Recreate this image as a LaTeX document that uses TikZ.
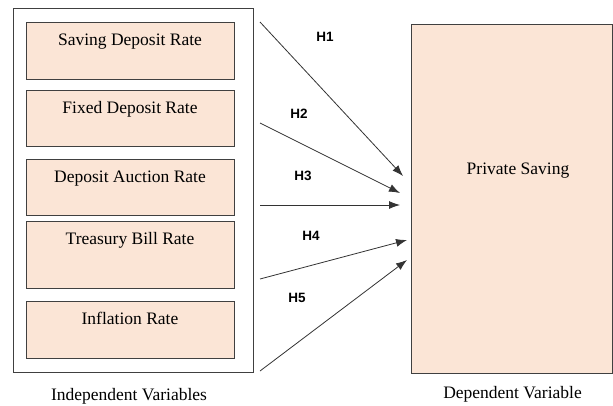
\documentclass[tikz,border=0pt]{standalone}
\usepackage{fontspec}
\setmainfont{Liberation Serif}
\newfontfamily\hypfont{Liberation Sans}
\usetikzlibrary{arrows.meta}
\definecolor{peach}{HTML}{FBE5D6}

\begin{document}
\begin{tikzpicture}[x=1pt,y=-1pt,
			varbox/.style={rectangle, draw=black!75, fill=peach, line width=0.9pt, inner sep=0pt},
			groupbox/.style={rectangle, draw=black!75, line width=0.9pt, inner sep=0pt},
			vartext/.style={anchor=base, inner sep=0pt, font=\fontsize{17.5}{20}\selectfont},
			hyplabel/.style={inner sep=0pt, font=\hypfont\bfseries\fontsize{13.5}{16}\selectfont},
			hyparrow/.style={draw=black!80, line width=0.8pt, -{Latex[length=11pt,width=8pt]}},
			]
\useasboundingbox (0,0) rectangle (613,405);

% independent variables
\node[groupbox, minimum width=240pt, minimum height=364pt] (indep) at (133,190) {};
\node[varbox, minimum width=208pt, minimum height=57pt] (sdr) at (130,50.5) {};
\node[vartext] (sdrtext) at ([yshift=-24pt]sdr.north) {Saving Deposit Rate};
\node[varbox, minimum width=208pt, minimum height=56pt] (fdr) at (130,118) {};
\node[vartext] (fdrtext) at ([yshift=-23.5pt]fdr.north) {Fixed Deposit Rate};
\node[varbox, minimum width=208pt, minimum height=56pt] (dar) at (130,187) {};
\node[vartext] (dartext) at ([yshift=-23.5pt]dar.north) {Deposit Auction Rate};
\node[varbox, minimum width=208pt, minimum height=67pt] (tbr) at (130,254.5) {};
\node[vartext] (tbrtext) at ([yshift=-24pt]tbr.north) {Treasury Bill Rate};
\node[varbox, minimum width=208pt, minimum height=57pt] (infl) at (130,329.5) {};
\node[vartext] (infltext) at ([yshift=-23.5pt]infl.north) {Inflation Rate};
\node[vartext] (indeptext) at (129,400.5) {Independent Variables};

% dependent variable
\node[varbox, minimum width=201pt, minimum height=349pt] (saving) at (511.5,198.5) {};
\node[vartext] (savingtext) at (518,174) {Private Saving};
\node[vartext] (deptext) at (512.5,398) {Dependent Variable};

% hypotheses
\coordinate (h1s) at (260,22);   \coordinate (h1e) at (403,176);
\coordinate (h2s) at (260,123);  \coordinate (h2e) at (400,193);
\coordinate (h3s) at (260,205);  \coordinate (h3e) at (400,205);
\coordinate (h4s) at (260,279);  \coordinate (h4e) at (407,240);
\coordinate (h5s) at (260,371);  \coordinate (h5e) at (407,260);
\draw[hyparrow] (h1s) -- (h1e);
\draw[hyparrow] (h2s) -- (h2e);
\draw[hyparrow] (h3s) -- (h3e);
\draw[hyparrow] (h4s) -- (h4e);
\draw[hyparrow] (h5s) -- (h5e);
\node[hyplabel] (h1) at (325,37) {H1};
\node[hyplabel] (h2) at (299,114) {H2};
\node[hyplabel] (h3) at (303,176) {H3};
\node[hyplabel] (h4) at (311,235.5) {H4};
\node[hyplabel] (h5) at (297,297.5) {H5};

\end{tikzpicture}
\end{document}
